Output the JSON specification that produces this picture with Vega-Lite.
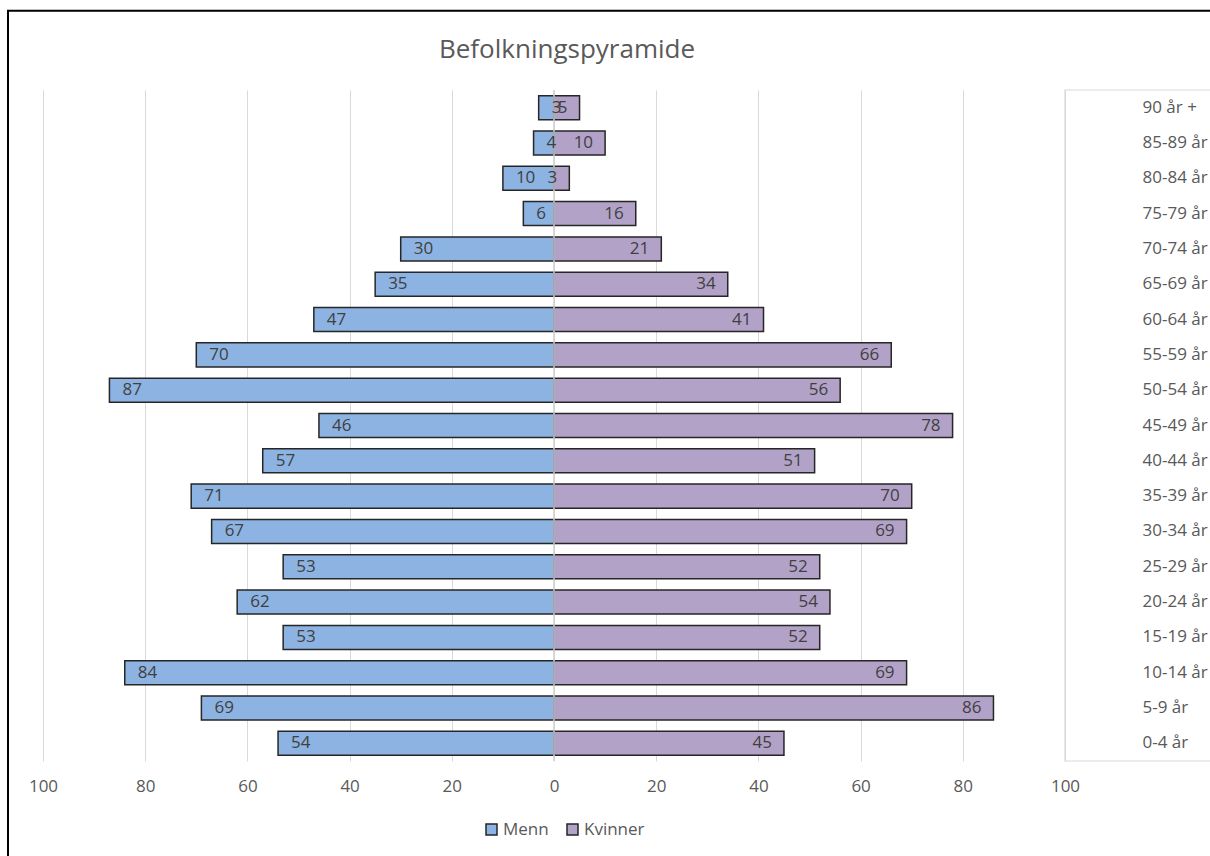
{
  "$schema": "https://vega.github.io/schema/vega-lite/v6.json",
  "autosize": "none",
  "width": 1022,
  "height": 671,
  "padding": {"left": 43, "top": 90, "right": 145, "bottom": 95},
  "background": "white",
  "title": {
    "text": "Befolkningspyramide",
    "font": "Open Sans",
    "fontSize": 26,
    "fontWeight": "normal",
    "color": "#595959",
    "anchor": "middle",
    "frame": "group",
    "dx": 13,
    "baseline": "alphabetic",
    "offset": -74
  },
  "config": {
    "font": "Open Sans",
    "view": {"stroke": null},
    "legend": {
      "orient": "none",
      "legendX": 440,
      "legendY": 731,
      "direction": "horizontal",
      "padding": 0,
      "symbolType": "square",
      "symbolSize": 121,
      "symbolStrokeColor": "#262626",
      "symbolStrokeWidth": 1.5,
      "symbolOpacity": 1,
      "labelFont": "Open Sans",
      "labelFontSize": 17,
      "labelColor": "#595959",
      "labelOffset": 3,
      "columnPadding": 15,
      "title": null
    }
  },
  "data": {
    "values": [
      {"alder": "90 år +", "menn": 3, "kvinner": 5},
      {"alder": "85-89 år", "menn": 4, "kvinner": 10},
      {"alder": "80-84 år", "menn": 10, "kvinner": 3},
      {"alder": "75-79 år", "menn": 6, "kvinner": 16},
      {"alder": "70-74 år", "menn": 30, "kvinner": 21},
      {"alder": "65-69 år", "menn": 35, "kvinner": 34},
      {"alder": "60-64 år", "menn": 47, "kvinner": 41},
      {"alder": "55-59 år", "menn": 70, "kvinner": 66},
      {"alder": "50-54 år", "menn": 87, "kvinner": 56},
      {"alder": "45-49 år", "menn": 46, "kvinner": 78},
      {"alder": "40-44 år", "menn": 57, "kvinner": 51},
      {"alder": "35-39 år", "menn": 71, "kvinner": 70},
      {"alder": "30-34 år", "menn": 67, "kvinner": 69},
      {"alder": "25-29 år", "menn": 53, "kvinner": 52},
      {"alder": "20-24 år", "menn": 62, "kvinner": 54},
      {"alder": "15-19 år", "menn": 53, "kvinner": 52},
      {"alder": "10-14 år", "menn": 84, "kvinner": 69},
      {"alder": "5-9 år", "menn": 69, "kvinner": 86},
      {"alder": "0-4 år", "menn": 54, "kvinner": 45}
    ]
  },
  "resolve": {"scale": {"x": "independent", "y": "independent"}, "axis": {"x": "independent", "y": "independent"}},
  "layer": [
    {
      "data": {"values": [{"ramme": 1}]},
      "mark": {"type": "rect", "filled": false, "stroke": "#000000", "strokeWidth": 2},
      "encoding": {
        "x": {"datum": -106.85, "type": "quantitative", "scale": {"domain": [-100, 100]}, "axis": null},
        "x2": {"datum": 160},
        "y": {"datum": 1.118, "type": "quantitative", "scale": {"domain": [0, 1]}, "axis": null},
        "y2": {"datum": -0.3}
      }
    },
    {
      "data": {"values": [{"boks": 1}]},
      "mark": {"type": "rect", "filled": false, "stroke": "#D9D9D9", "strokeWidth": 1.2},
      "encoding": {
        "x": {"datum": 100, "type": "quantitative", "scale": {"domain": [-100, 100]}, "axis": null},
        "x2": {"datum": 140}
      }
    },
    {
      "mark": {"type": "bar", "stroke": "#262626", "strokeWidth": 1.5},
      "encoding": {
        "y": {
          "field": "alder", "type": "nominal", "sort": null,
          "scale": {"paddingInner": 0.32, "paddingOuter": 0.16},
          "axis": {
            "orient": "right", "title": null, "domain": false, "ticks": false,
            "labelAlign": "left", "labelPadding": 77, "labelFontSize": 17,
            "labelColor": "#595959", "labelFont": "Open Sans"
          }
        },
        "x": {"field": "menn", "type": "quantitative", "scale": {"domain": [100, -100]}, "axis": null},
        "x2": {"datum": 0},
        "color": {
          "datum": "Menn", "type": "nominal",
          "scale": {"domain": ["Menn", "Kvinner"], "range": ["#8DB3E2", "#B3A2C7"]}
        }
      }
    },
    {
      "mark": {"type": "bar", "stroke": "#262626", "strokeWidth": 1.5},
      "encoding": {
        "y": {
          "field": "alder", "type": "nominal", "sort": null,
          "scale": {"paddingInner": 0.32, "paddingOuter": 0.16},
          "axis": null
        },
        "x": {
          "field": "kvinner", "type": "quantitative", "scale": {"domain": [-100, 100]},
          "axis": {
            "values": [-100, -80, -60, -40, -20, 0, 20, 40, 60, 80, 100],
            "labelExpr": "'' + abs(datum.value)",
            "labelFlush": false,
            "labelOverlap": false,
            "title": null, "domain": false, "ticks": false,
            "grid": true, "gridColor": "#D9D9D9", "gridWidth": 1,
            "labelFontSize": 17, "labelColor": "#595959", "labelFont": "Open Sans",
            "labelPadding": 17
          }
        },
        "x2": {"datum": 0},
        "color": {"datum": "Kvinner", "type": "nominal"}
      }
    },
    {
      "data": {"values": [{"null": 0}]},
      "mark": {"type": "rule", "color": "#CFCFCF", "strokeWidth": 1.5},
      "encoding": {
        "x": {"datum": 0, "type": "quantitative", "scale": {"domain": [-100, 100]}, "axis": null}
      }
    },
    {
      "mark": {"type": "text", "align": "left", "baseline": "middle", "dx": 13, "fontSize": 17, "color": "#404040", "font": "Open Sans"},
      "encoding": {
        "y": {"field": "alder", "type": "nominal", "sort": null, "scale": {"paddingInner": 0.32, "paddingOuter": 0.16}, "axis": null},
        "x": {"field": "menn", "type": "quantitative", "scale": {"domain": [100, -100]}, "axis": null},
        "text": {"field": "menn", "type": "quantitative"}
      }
    },
    {
      "mark": {"type": "text", "align": "right", "baseline": "middle", "dx": -12, "fontSize": 17, "color": "#404040", "font": "Open Sans"},
      "encoding": {
        "y": {"field": "alder", "type": "nominal", "sort": null, "scale": {"paddingInner": 0.32, "paddingOuter": 0.16}, "axis": null},
        "x": {"field": "kvinner", "type": "quantitative", "scale": {"domain": [-100, 100]}, "axis": null},
        "text": {"field": "kvinner", "type": "quantitative"}
      }
    }
  ]
}
